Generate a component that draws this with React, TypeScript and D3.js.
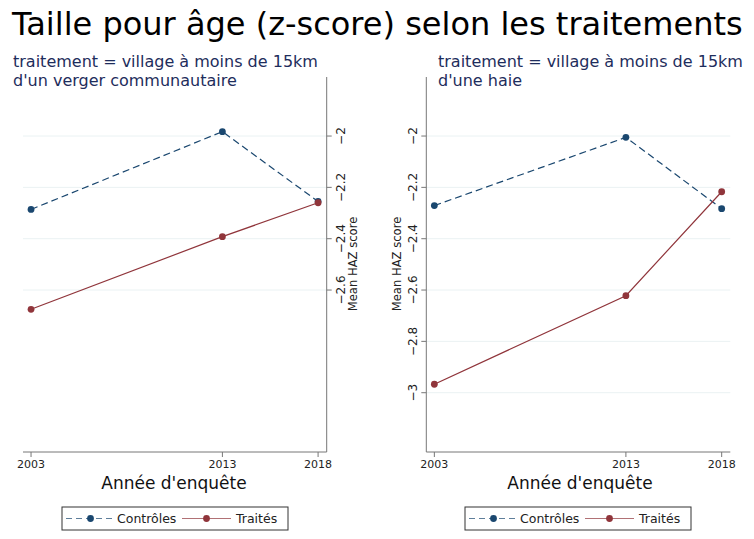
import { useEffect, useRef } from 'react';
import * as d3 from 'd3';

// survey years
const years = [2003, 2013, 2018];

// mean HAZ score, panel 1 (verger communautaire)
const vergerControles = [-2.286, -1.983, -2.255];
const vergerTraites = [-2.675, -2.392, -2.26];

// mean HAZ score, panel 2 (haie)
const haieControles = [-2.271, -2.005, -2.283];
const haieTraites = [-2.967, -2.622, -2.217];

const vergerTicks = [-2, -2.2, -2.4, -2.6];
const haieTicks = [-2, -2.2, -2.4, -2.6, -2.8, -3];

const subtitleVerger = ['traitement = village à moins de 15km', "d'un verger communautaire"];
const subtitleHaie = ['traitement = village à moins de 15km', "d'une haie"];

const seriesNames = ['Contrôles', 'Traités'];

const NAVY = '#1a476f';
const MAROON = '#90353b';
const FONT = 'DejaVu Sans, sans-serif';

export default function App() {
  const svgRef = useRef<SVGSVGElement>(null);

  useEffect(() => {
    if (!svgRef.current) return;
    const width = 754;
    const height = 539;

    const svg = d3.select(svgRef.current)
      .attr('width', width)
      .attr('height', height)
      .attr('viewBox', `0 0 ${width} ${height}`);
    svg.selectAll('*').remove();

    svg.append('rect').attr('width', width).attr('height', height).attr('fill', '#fff');

    svg.append('text')
      .attr('x', 12)
      .attr('y', 35)
      .attr('font-family', FONT)
      .attr('font-size', 32)
      .attr('fill', '#000')
      .text('Taille pour âge (z-score) selon les traitements');

    const y = d3.scaleLinear().domain([-3.231, -1.77]).range([452, 77]);
    const fmt = d3.format('');

    const panels = [
      { x0: 23, x1: 326.7, axisSide: 'right', ticks: vergerTicks, sub: subtitleVerger, subX: 13,
        ctrl: vergerControles, trt: vergerTraites, legendX: 62, titleX: 174, ylabX: 353 },
      { x0: 426.3, x1: 730.3, axisSide: 'left', ticks: haieTicks, sub: subtitleHaie, subX: 438,
        ctrl: haieControles, trt: haieTraites, legendX: 465, titleX: 580, ylabX: 397 },
    ];

    panels.forEach(p => {
      const x = d3.scaleLinear().domain([2002.58, 2018.45]).range([p.x0, p.x1]);
      const g = svg.append('g');

      // subtitle
      g.selectAll('.sub')
        .data(p.sub)
        .enter().append('text')
        .attr('x', p.subX)
        .attr('y', (_, i) => 67 + i * 19)
        .attr('font-family', FONT)
        .attr('font-size', 16)
        .attr('fill', '#1e2d5c')
        .text(d => d);

      // gridlines
      g.selectAll('.grid')
        .data(p.ticks)
        .enter().append('line')
        .attr('x1', p.x0)
        .attr('x2', p.x1)
        .attr('y1', d => y(d))
        .attr('y2', d => y(d))
        .attr('stroke', '#eaf2f3')
        .attr('stroke-width', 1);

      // y axis
      const axisX = p.axisSide === 'right' ? p.x1 : p.x0;
      const dir = p.axisSide === 'right' ? 1 : -1;
      g.append('line')
        .attr('x1', axisX).attr('x2', axisX)
        .attr('y1', 77).attr('y2', 452)
        .attr('stroke', '#777').attr('stroke-width', 1);
      g.selectAll('.ytick')
        .data(p.ticks)
        .enter().append('line')
        .attr('x1', axisX).attr('x2', axisX + dir * 5)
        .attr('y1', d => y(d)).attr('y2', d => y(d))
        .attr('stroke', '#777');
      g.selectAll('.ylab')
        .data(p.ticks)
        .enter().append('text')
        .attr('transform', d => `translate(${axisX + dir * 14},${y(d)}) rotate(-90)`)
        .attr('text-anchor', 'middle')
        .attr('dy', '0.35em')
        .attr('font-family', FONT)
        .attr('font-size', 12)
        .attr('fill', '#222')
        .text(d => fmt(d));

      g.append('text')
        .attr('transform', `translate(${p.ylabX},264) rotate(-90)`)
        .attr('text-anchor', 'middle')
        .attr('dy', '0.35em')
        .attr('font-family', FONT)
        .attr('font-size', 11.6)
        .attr('fill', '#222')
        .text('Mean HAZ score');

      // x axis
      g.append('line')
        .attr('x1', p.x0).attr('x2', p.x1)
        .attr('y1', 452).attr('y2', 452)
        .attr('stroke', '#777');
      g.selectAll('.xtick')
        .data(years)
        .enter().append('line')
        .attr('x1', d => x(d)).attr('x2', d => x(d))
        .attr('y1', 452).attr('y2', 457)
        .attr('stroke', '#777');
      g.selectAll('.xlab')
        .data(years)
        .enter().append('text')
        .attr('x', d => x(d))
        .attr('y', 468)
        .attr('text-anchor', 'middle')
        .attr('font-family', FONT)
        .attr('font-size', 11)
        .attr('fill', '#222')
        .text(d => d);
      g.append('text')
        .attr('x', p.titleX)
        .attr('y', 489)
        .attr('text-anchor', 'middle')
        .attr('font-family', FONT)
        .attr('font-size', 17)
        .attr('fill', '#111')
        .text("Année d'enquête");

      // series
      const line = d3.line<number>()
        .x((_, i) => x(years[i]))
        .y(d => y(d));
      const series = [
        { vals: p.ctrl, color: NAVY, dash: '7 4' },
        { vals: p.trt, color: MAROON, dash: 'none' },
      ];
      series.forEach(s => {
        g.append('path')
          .attr('d', line(s.vals))
          .attr('fill', 'none')
          .attr('stroke', s.color)
          .attr('stroke-width', 1.2)
          .attr('stroke-dasharray', s.dash);
        g.selectAll('.pt')
          .data(s.vals)
          .enter().append('circle')
          .attr('cx', (_, i) => x(years[i]))
          .attr('cy', d => y(d))
          .attr('r', 3.4)
          .attr('fill', s.color);
      });

      // legend
      const lg = g.append('g').attr('transform', `translate(${p.legendX},507)`);
      lg.append('rect')
        .attr('width', 226).attr('height', 23)
        .attr('fill', '#fff').attr('stroke', '#333').attr('stroke-width', 1);
      const items = [
        { name: seriesNames[0], color: NAVY, dash: '6 4', lx: 4, tx: 55 },
        { name: seriesNames[1], color: MAROON, dash: 'none', lx: 120, tx: 174 },
      ];
      items.forEach(it => {
        lg.append('line')
          .attr('x1', it.lx).attr('x2', it.lx + 49)
          .attr('y1', 11.5).attr('y2', 11.5)
          .attr('stroke', it.color).attr('stroke-opacity', 0.7)
          .attr('stroke-width', 1.2)
          .attr('stroke-dasharray', it.dash);
        lg.append('circle')
          .attr('cx', it.lx + 24.5).attr('cy', 11.5).attr('r', 3.4)
          .attr('fill', it.color);
        lg.append('text')
          .attr('x', it.tx).attr('y', 16)
          .attr('font-family', FONT)
          .attr('font-size', 12.5)
          .attr('fill', '#222')
          .text(it.name);
      });
    });
  }, []);

  return (
    <div style={{ position: 'fixed', left: 0, top: 0 }}>
      <svg ref={svgRef} style={{ display: 'block' }} />
    </div>
  );
}
